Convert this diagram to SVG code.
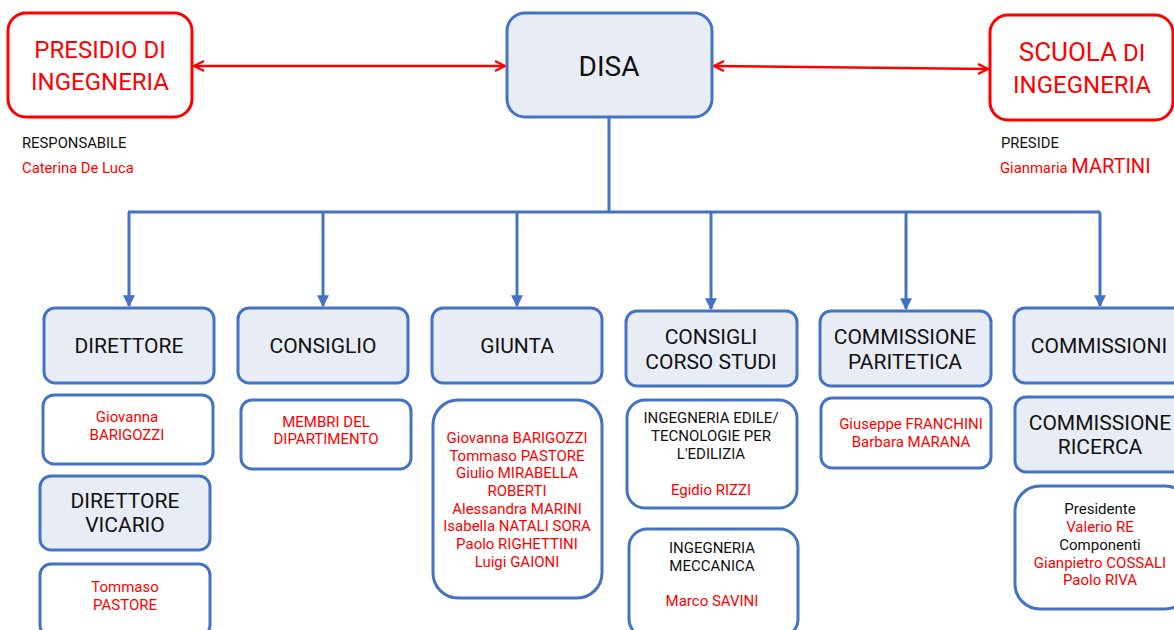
<svg xmlns="http://www.w3.org/2000/svg" width="1174" height="630" viewBox="0 0 1174 630">
<defs>
<style>
text{font-family:Roboto,"Noto Sans","Liberation Sans",sans-serif;text-anchor:middle}
.hd{fill:#E8ECF5;stroke:#4472C4;stroke-width:3}
.bx{fill:#fff;stroke:#4472C4;stroke-width:3}
.rb{fill:#fff;stroke:#FF0000;stroke-width:3}
.t20{font-size:21px;fill:#111}
.r14{font-size:15px;fill:#FF0000}
.k14{font-size:15px;fill:#111}
.r22{font-size:24px;fill:#FF0000}
.con{fill:none;stroke:#4472C4;stroke-width:3}
.red{fill:none;stroke:#FF0000;stroke-width:2.5}
</style>
<marker id="ab" viewBox="0 0 10 10" refX="9" refY="5" markerWidth="4" markerHeight="4" orient="auto">
<path d="M0,0 L10,5 L0,10 z" fill="#4472C4"/>
</marker>
<marker id="ar" viewBox="0 0 10 10" refX="9" refY="5" markerWidth="5" markerHeight="5" orient="auto-start-reverse">
<path d="M1,1 L9,5 L1,9" fill="none" stroke="#FF0000" stroke-width="1.8"/>
</marker>
</defs>
<rect width="1174" height="630" fill="#fff"/>

<g id="connectors">
<line class="red" x1="194" y1="66" x2="505" y2="66" marker-start="url(#ar)" marker-end="url(#ar)"/>
<line class="red" x1="714" y1="66" x2="988" y2="69" marker-start="url(#ar)" marker-end="url(#ar)"/>
<path class="con" d="M609,117 V213 M128,212 H1100"/>
<line class="con" x1="129" y1="212" x2="129" y2="306" marker-end="url(#ab)"/>
<line class="con" x1="323" y1="212" x2="323" y2="306" marker-end="url(#ab)"/>
<line class="con" x1="517" y1="212" x2="517" y2="306" marker-end="url(#ab)"/>
<line class="con" x1="711" y1="212" x2="711" y2="309" marker-end="url(#ab)"/>
<line class="con" x1="906" y1="212" x2="906" y2="309" marker-end="url(#ab)"/>
<line class="con" x1="1100" y1="212" x2="1100" y2="306" marker-end="url(#ab)"/>
</g>

<g id="presidio">
<rect class="rb" x="8" y="13" width="184" height="104" rx="18"/>
<text class="r22" x="100" y="58">PRESIDIO DI</text>
<text class="r22" x="100" y="90">INGEGNERIA</text>
<text x="22" y="148" style="font-size:14.8px;fill:#111;text-anchor:start">RESPONSABILE</text>
<text x="22" y="173" style="font-size:14.8px;fill:#FF0000;text-anchor:start">Caterina De Luca</text>
</g>

<g id="disa">
<rect class="hd" x="507" y="13" width="205" height="104" rx="18"/>
<text x="609" y="76" style="font-size:28px;fill:#111">DISA</text>
</g>

<g id="scuola">
<rect class="rb" x="990" y="15" width="183" height="105" rx="18"/>
<text x="1082" y="61" class="r22"><tspan style="font-size:26px">SCUOLA</tspan> DI</text>
<text class="r22" x="1082" y="93">INGEGNERIA</text>
<text x="1001" y="148" style="font-size:14.8px;fill:#111;text-anchor:start">PRESIDE</text>
<text x="1000" y="173" style="font-size:14.8px;fill:#FF0000;text-anchor:start">Gianmaria <tspan style="font-size:20px">MARTINI</tspan></text>
</g>

<g id="direttore">
<rect class="hd" x="44" y="308" width="170" height="75" rx="11"/>
<text class="t20" x="129" y="353">DIRETTORE</text>
</g>
<g id="direttore-nome">
<rect class="bx" x="43" y="395" width="170" height="69" rx="11"/>
<text class="r14" x="127" y="422">Giovanna</text>
<text class="r14" x="127" y="440">BARIGOZZI</text>
</g>
<g id="vicario">
<rect class="hd" x="40" y="476" width="170" height="74" rx="11"/>
<text class="t20" x="125" y="508">DIRETTORE</text>
<text class="t20" x="125" y="532">VICARIO</text>
</g>
<g id="vicario-nome">
<rect class="bx" x="40" y="564" width="170" height="72" rx="11"/>
<text class="r14" x="125" y="592">Tommaso</text>
<text class="r14" x="125" y="610">PASTORE</text>
</g>

<g id="consiglio">
<rect class="hd" x="238" y="308" width="170" height="75" rx="11"/>
<text class="t20" x="323" y="353">CONSIGLIO</text>
</g>
<g id="membri">
<rect class="bx" x="241" y="400" width="170" height="69" rx="11"/>
<text class="r14" x="326" y="427">MEMBRI DEL</text>
<text class="r14" x="326" y="444">DIPARTIMENTO</text>
</g>

<g id="giunta">
<rect class="hd" x="432" y="308" width="170" height="75" rx="11"/>
<text class="t20" x="517" y="353">GIUNTA</text>
</g>
<g id="giunta-membri">
<rect class="bx" x="433" y="400" width="169" height="198" rx="25"/>
<text class="r14" x="517" y="443">Giovanna BARIGOZZI</text>
<text class="r14" x="517" y="461">Tommaso PASTORE</text>
<text class="r14" x="517" y="478">Giulio MIRABELLA</text>
<text class="r14" x="517" y="496">ROBERTI</text>
<text class="r14" x="517" y="514">Alessandra MARINI</text>
<text class="r14" x="517" y="531">Isabella NATALI SORA</text>
<text class="r14" x="517" y="549">Paolo RIGHETTINI</text>
<text class="r14" x="517" y="567">Luigi GAIONI</text>
</g>

<g id="ccs">
<rect class="hd" x="626" y="311" width="171" height="75" rx="11"/>
<text class="t20" x="711" y="344">CONSIGLI</text>
<text class="t20" x="711" y="369">CORSO STUDI</text>
</g>
<g id="edile">
<rect class="bx" x="627" y="400" width="170" height="108" rx="18"/>
<text class="k14" x="711" y="423">INGEGNERIA EDILE/</text>
<text class="k14" x="711" y="441">TECNOLOGIE PER</text>
<text class="k14" x="711" y="459">L'EDILIZIA</text>
<text class="r14" x="711" y="495">Egidio RIZZI</text>
</g>
<g id="meccanica">
<rect class="bx" x="629" y="529" width="169" height="108" rx="18"/>
<text class="k14" x="712" y="553">INGEGNERIA</text>
<text class="k14" x="712" y="571">MECCANICA</text>
<text class="r14" x="712" y="606">Marco SAVINI</text>
</g>

<g id="paritetica">
<rect class="hd" x="820" y="311" width="171" height="75" rx="11"/>
<text class="t20" x="905" y="344">COMMISSIONE</text>
<text class="t20" x="905" y="369">PARITETICA</text>
</g>
<g id="paritetica-membri">
<rect class="bx" x="821" y="398" width="170" height="70" rx="11"/>
<text class="r14" x="911" y="429">Giuseppe FRANCHINI</text>
<text class="r14" x="911" y="447">Barbara MARANA</text>
</g>

<g id="commissioni">
<rect class="hd" x="1014" y="308" width="175" height="75" rx="11"/>
<text class="t20" x="1099" y="353">COMMISSIONI</text>
</g>
<g id="ricerca">
<rect class="hd" x="1015" y="397" width="175" height="75" rx="11"/>
<text class="t20" x="1100" y="430">COMMISSIONE</text>
<text class="t20" x="1100" y="454">RICERCA</text>
</g>
<g id="ricerca-membri">
<rect class="bx" x="1015" y="486" width="175" height="123" rx="25"/>
<text class="k14" x="1100" y="514">Presidente</text>
<text class="r14" x="1100" y="532">Valerio RE</text>
<text class="k14" x="1100" y="550">Componenti</text>
<text class="r14" x="1100" y="568">Gianpietro COSSALI</text>
<text class="r14" x="1100" y="585">Paolo RIVA</text>
</g>
</svg>
